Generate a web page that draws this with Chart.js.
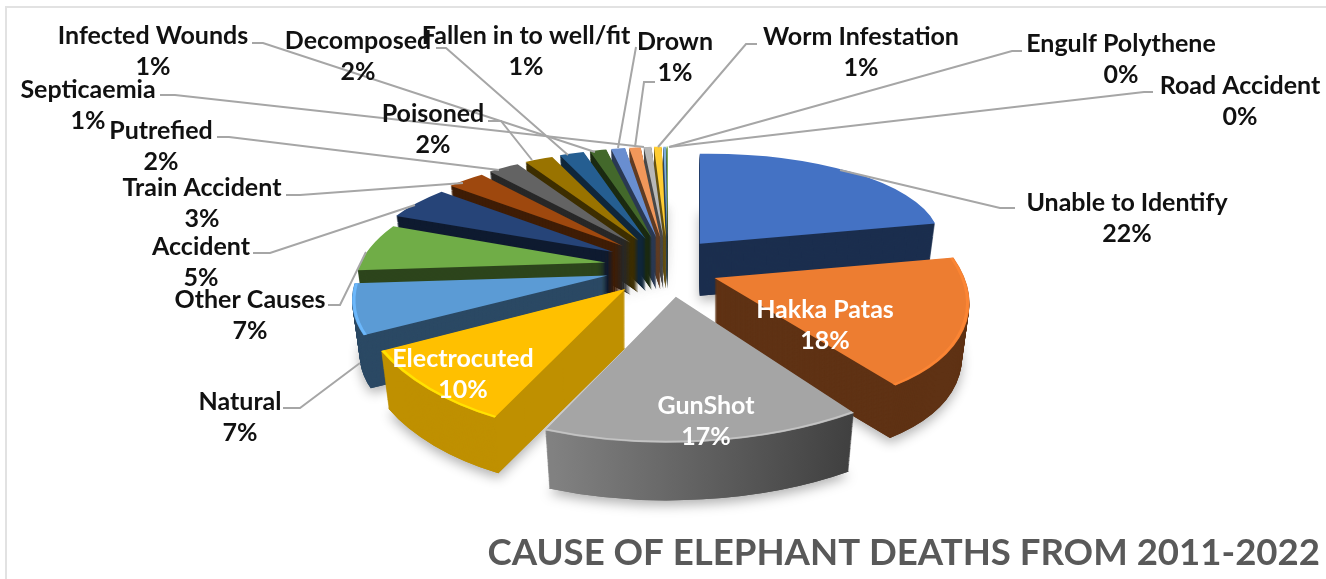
<!DOCTYPE html>
<html>
<head>
<meta charset="utf-8">
<title>Cause of elephant deaths</title>
<script src="https://cdn.jsdelivr.net/npm/chart.js@4"></script>
<style>
    html, body { margin: 0; padding: 0; background: #fff; overflow: hidden; }
    #wrap { position: relative; width: 1326px; height: 579px; }
    #frame { position: absolute; left: 5px; top: 6px; right: 0; bottom: 0; border-left: 2px solid #e2e2e2; border-top: 2px solid #e2e2e2; }
    canvas { position: absolute; left: 0; top: 0; }
</style>
</head>
<body>
<div id="wrap">
    <div id="frame"></div>
    <canvas id="deathsChart" width="1326" height="579"></canvas>
</div>
<script>
// Data (shares are estimated so the slices line up)
const causes = ['Unable to Identify', 'Hakka Patas', 'GunShot', 'Electrocuted', 'Natural', 'Other Causes',
    'Accident', 'Train Accident', 'Putrefied', 'Poisoned', 'Decomposed', 'Infected Wounds',
    'Fallen in to well/fit', 'Drown', 'Septicaemia', 'Worm Infestation', 'Engulf Polythene', 'Road Accident'];
const shares = [21.9, 18.1, 16.9, 10, 7, 6.9, 5, 2.9, 2.4, 2.2, 1.9, 1.3, 1.1, 0.9, 0.6, 0.6, 0.2, 0.1];
const sliceColors = ['#4472c4', '#ed7d31', '#a5a5a5', '#ffc000', '#5b9bd5', '#70ad47',
    '#264478', '#9e480e', '#636363', '#997300', '#255e91', '#43682b',
    '#698ed0', '#f1975a', '#b7b7b7', '#ffcd33', '#7cafdd', '#8cc168'];
const chartTitle = 'CAUSE OF ELEPHANT DEATHS FROM 2011-2022';

// Label centre x, name y, percent y
const labelX = [1127, 825, 706, 463, 240, 250, 201, 202, 161, 433, 358, 153, 526, 675, 88, 861, 1121, 1240];
const labelY = [203, 310, 406, 359, 402, 300, 247, 188, 131, 114, 41, 36, 36, 42, 90, 37, 44, 86];
const whiteLabels = ['Hakka Patas', 'GunShot', 'Electrocuted'];

// Leader lines
const leaders = [
    [[1015, 208], [1000, 208], [840, 170]],
    null, null, null,
    [[283, 408], [300, 408], [360, 363]],
    [[328, 305], [340, 305], [366, 252]],
    [[253, 253], [270, 253], [415, 205]],
    [[286, 195], [300, 195], [463, 183]],
    [[217, 137], [229, 137], [499, 170]],
    [[488, 121], [501, 121], [532, 160]],
    [[436, 48], [446, 48], [568, 155]],
    [[252, 43], [263, 43], [595, 152]],
    [[636, 47], [618, 148]],
    [[655, 82], [644, 82], [635, 147]],
    [[160, 95], [175, 95], [644, 147]],
    [[757, 44], [746, 44], [658, 147]],
    [[1022, 51], [1012, 51], [669, 147]],
    [[1153, 92], [1144, 92], [669, 147]]
];

// Fake 3D view settings
const radius = 250;
const centerX = 668, centerY = 267;
const explodeRight = 50, explodeLeft = 63, explodeY = 30;
const flatten = 0.4384, perspective = 0.217;
// small per slice corrections where the simple view model is off
const sliceTweaks = {
    1: { sx: 1.015 },
    2: { dx: 3, sy: 1.08 },
    3: { sy: 1.04 },
    5: { sx: 0.98 }
};

function shade(hex, f) {
    const n = parseInt(hex.slice(1), 16);
    const c = [n >> 16, (n >> 8) & 255, n & 255].map(function(v) { return Math.min(255, Math.round(v * f)); });
    return 'rgb(' + c.join(',') + ')';
}

// angle is the Chart.js one (0 = 3 o'clock, clockwise)
function project(angle) {
    const u = Math.cos(angle), v = Math.sin(angle);
    const w = 1 / (1 - perspective * v);
    return [u * w, flatten * v * w];
}

function sliceMatrix(arc, tweak) {
    const mid = (arc.startAngle + arc.endAngle) / 2;
    const half = Math.max((arc.endAngle - arc.startAngle) / 2, 0.2);
    const a1 = mid - half, a2 = mid + half;
    const p1 = project(a1), p2 = project(a2);
    const e11 = Math.cos(a1), e21 = Math.sin(a1), e12 = Math.cos(a2), e22 = Math.sin(a2);
    const det = e11 * e22 - e12 * e21;
    const sx = tweak.sx || 1, sy = tweak.sy || 1;
    const ux = Math.cos(mid);
    return {
        m11: sx * (p1[0] * e22 - p2[0] * e21) / det,
        m12: sx * (p2[0] * e11 - p1[0] * e12) / det,
        m21: sy * (p1[1] * e22 - p2[1] * e21) / det,
        m22: sy * (p2[1] * e11 - p1[1] * e12) / det,
        px: centerX + (ux > 0 ? explodeRight : explodeLeft) * ux + (tweak.dx || 0),
        py: centerY + explodeY * Math.sin(mid),
        v: Math.sin(mid)
    };
}

function applySlice(ctx, arc, m, drop, scale) {
    ctx.transform(m.m11 * scale, m.m21 * scale, m.m12 * scale, m.m22 * scale,
        m.px - (m.m11 * arc.x + m.m12 * arc.y) * scale,
        m.py + drop - (m.m21 * arc.x + m.m22 * arc.y) * scale);
}

function drawWith(ctx, arc, fill) {
    const saved = arc.options;
    arc.options = Object.assign({}, saved, { backgroundColor: fill });
    arc.draw(ctx);
    arc.options = saved;
}

const pie3d = {
    id: 'pie3d',
    beforeDatasetsDraw(chart) {
        const ctx = chart.ctx;
        const arcs = chart.getDatasetMeta(0).data;
        const order = arcs.map(function(arc, i) { return { arc: arc, i: i, m: sliceMatrix(arc, sliceTweaks[i] || {}) }; })
            .sort(function(a, b) { return a.m.v - b.m.v; });

        order.forEach(function(s) {
            const color = sliceColors[s.i];
            const depth = 52 + 10 * Math.max(s.m.v, 0);
            let side = shade(color, 0.4);
            if (s.i === 3) side = shade(color, 0.75);
            if (s.i === 4) side = shade(color, 0.47);
            if (s.i === 2) {
                side = ctx.createLinearGradient(s.arc.x - 100, 0, s.arc.x + 150, 0);
                side.addColorStop(0, shade(color, 0.78));
                side.addColorStop(1, shade(color, 0.38));
            }

            // soft shadow under the slice
            ctx.save();
            ctx.shadowColor = 'rgba(0,0,0,0.3)';
            ctx.shadowBlur = 12;
            ctx.shadowOffsetY = 5;
            applySlice(ctx, s.arc, s.m, depth, 0.97);
            drawWith(ctx, s.arc, side);
            ctx.restore();

            // side wall
            for (let d = depth; d > 0; d--) {
                ctx.save();
                applySlice(ctx, s.arc, s.m, d, 1 - 0.03 * d / depth);
                drawWith(ctx, s.arc, side);
                ctx.restore();
            }

            // top face
            ctx.save();
            applySlice(ctx, s.arc, s.m, 0, 1);
            drawWith(ctx, s.arc, color);
            if (s.i >= 1 && s.i <= 4) {
                ctx.beginPath();
                ctx.arc(s.arc.x, s.arc.y, s.arc.outerRadius - 2, s.arc.startAngle, s.arc.endAngle);
                ctx.lineWidth = 3;
                ctx.strokeStyle = shade(color, s.i === 1 ? 1.06 : 1.18);
                ctx.stroke();
            }
            ctx.restore();
        });

        // leader lines and labels sit on top of the pie
        ctx.save();
        ctx.strokeStyle = '#a6a6a6';
        ctx.lineWidth = 2;
        leaders.forEach(function(points) {
            if (!points) return;
            ctx.beginPath();
            points.forEach(function(p, i) { i ? ctx.lineTo(p[0], p[1]) : ctx.moveTo(p[0], p[1]); });
            ctx.stroke();
        });
        ctx.textAlign = 'center';
        ctx.textBaseline = 'middle';
        ctx.font = 'bold 25px Lato';
        causes.forEach(function(name, i) {
            ctx.fillStyle = whiteLabels.includes(name) ? '#ffffff' : '#111111';
            ctx.fillText(name, labelX[i], labelY[i]);
            ctx.fillText(Math.round(shares[i]) + '%', labelX[i], labelY[i] + 31);
        });
        ctx.restore();
        return false;
    }
};

const deathsChart = new Chart(document.getElementById('deathsChart'), {
    type: 'pie',
    data: {
        labels: causes,
        datasets: [{
            data: shares,
            backgroundColor: sliceColors,
            borderWidth: 0,
            hoverOffset: 0
        }]
    },
    options: {
        responsive: false,
        animation: false,
        radius: radius,
        layout: { padding: { right: 6 } },
        plugins: {
            legend: { display: false },
            tooltip: { enabled: false },
            title: {
                display: true,
                text: chartTitle,
                position: 'bottom',
                align: 'end',
                color: '#595959',
                font: { family: 'Lato', size: 36.6, weight: 'bold' },
                padding: { top: 0, bottom: 4 }
            }
        }
    },
    plugins: [pie3d]
});
</script>
</body>
</html>
